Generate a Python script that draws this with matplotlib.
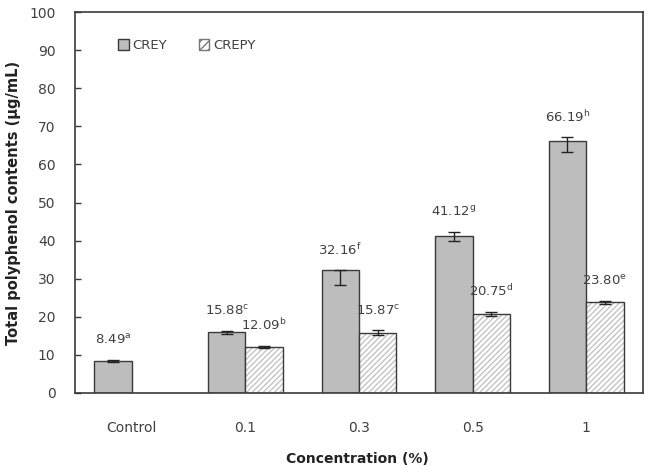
import numpy as np
import matplotlib
matplotlib.use("Agg")
import matplotlib.pyplot as plt
from matplotlib.patches import Patch

categories = ["Control", "0.1", "0.3", "0.5", "1"]
crey = [8.49, 15.88, 32.16, 41.12, 66.19]
crepy = [np.nan, 12.09, 15.87, 20.75, 23.80]
crey_err_lo = [0.3, 0.5, 3.9, 1.2, 3.0]
crey_err_hi = [0.3, 0.5, 0.0, 1.2, 1.0]
crepy_err = [np.nan, 0.3, 0.6, 0.6, 0.4]
crey_letters = ["a", "c", "f", "g", "h"]
crepy_letters = ["", "b", "c", "d", "e"]

txt = "#404040"
edge = "#3a3a3a"

fig = plt.figure(figsize=(6.5, 4.66), dpi=100)
ax = fig.add_axes([75 / 650, 1 - 393 / 466, 568 / 650, 381 / 466])

x = np.arange(len(categories))
w = 0.33

ax.bar(x - w / 2, crey, w, color="#bdbdbd", edgecolor=edge, linewidth=1.0)
ax.errorbar(x - w / 2, crey, yerr=[crey_err_lo, crey_err_hi], fmt="none",
            ecolor="#222222", elinewidth=1.0, capsize=4, capthick=1.0)

# hatched bars: light hatch, then a dark outline on top
ax.bar(x + w / 2, crepy, w, color="white", edgecolor="#c4c4c4", hatch="//////", linewidth=0)
ax.bar(x + w / 2, crepy, w, fill=False, edgecolor=edge, linewidth=1.0)
ax.errorbar(x + w / 2, crepy, yerr=crepy_err, fmt="none",
            ecolor="#222222", elinewidth=1.0, capsize=4, capthick=1.0)

for i in range(len(categories)):
    top = crey[i] + crey_err_hi[i]
    ax.annotate(f"{crey[i]:.2f}$^{{\\mathrm{{{crey_letters[i]}}}}}$", (x[i] - w / 2, top),
                xytext=(0, 9), textcoords="offset points", ha="center", va="bottom",
                fontsize=9.5, color=txt)
    if not np.isnan(crepy[i]):
        top = crepy[i] + crepy_err[i]
        ax.annotate(f"{crepy[i]:.2f}$^{{\\mathrm{{{crepy_letters[i]}}}}}$", (x[i] + w / 2, top),
                    xytext=(0, 9), textcoords="offset points", ha="center", va="bottom",
                    fontsize=9.5, color=txt)

ax.set_xlim(-0.5, len(categories) - 0.5)
ax.set_ylim(0, 100)
ax.set_yticks(np.arange(0, 101, 10))
ax.set_xticks(x)
ax.set_xticklabels(categories)
ax.tick_params(axis="x", length=0, pad=20, labelsize=10, labelcolor=txt)
ax.tick_params(axis="y", direction="in", length=4, width=1, pad=14, labelsize=10,
               labelcolor=txt, color=edge)
for s in ax.spines.values():
    s.set_color(edge)
    s.set_linewidth(1.2)

ax.set_ylabel("Total polyphenol contents (μg/mL)", fontsize=10.5, fontweight="bold",
              color="#222222", labelpad=6)
fig.text(357 / 650, 14 / 466, "Concentration (%)", ha="center", va="top",
         fontsize=10, fontweight="bold", color="#222222")

handles = [Patch(facecolor="#bdbdbd", edgecolor=edge, label="CREY"),
           Patch(facecolor="white", edgecolor="#777777", hatch="////", label="CREPY")]
ax.legend(handles=handles, loc="upper left", bbox_to_anchor=(0.055, 0.96), ncol=2,
          frameon=False, fontsize=9.5, handlelength=0.8, handleheight=0.8,
          handletextpad=0.3, columnspacing=2.4, labelcolor=txt)

fig.savefig("out.png", dpi=100)
